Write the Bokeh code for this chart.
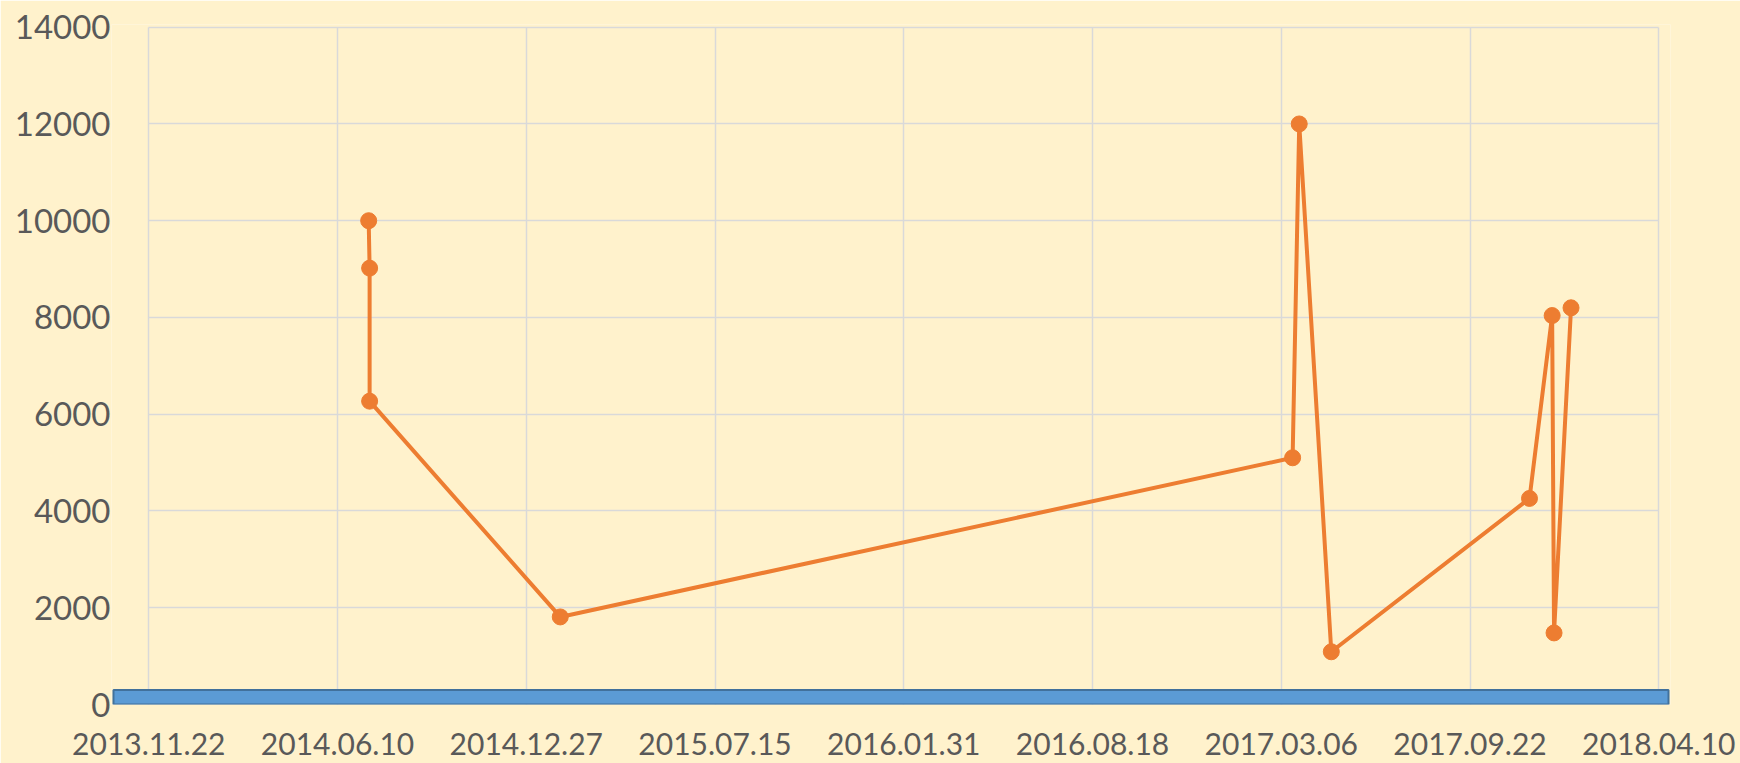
import pandas as pd
from bokeh.plotting import figure
from bokeh.models import Range1d, FixedTicker, DatetimeTickFormatter, ColumnDataSource, Grid
from bokeh.embed import file_html
from bokeh.resources import INLINE

# ---- data ----
dates = ["2014-07-13", "2014-07-14", "2014-07-14", "2015-02-01", "2017-03-18",
         "2017-03-25", "2017-04-28", "2017-11-24", "2017-12-18", "2017-12-20", "2018-01-07"]
values = [10000, 9020, 6270, 1810, 5100, 12000, 1090, 4260, 8040, 1480, 8200]
x_tick_labels = ["2013.11.22", "2014.06.10", "2014.12.27", "2015.07.15", "2016.01.31",
                 "2016.08.18", "2017.03.06", "2017.09.22", "2018.04.10"]
y_ticks = [0, 2000, 4000, 6000, 8000, 10000, 12000, 14000]
base_bar_value = [300]

DAY = 86400000.0
def to_ms(s, fmt=None):
    ts = pd.to_datetime(s, format=fmt)
    return (ts - pd.Timestamp("1970-01-01")) / pd.Timedelta(milliseconds=1)

x_ticks = [float(to_ms(t, "%Y.%m.%d")) for t in x_tick_labels]
xs = [float(to_ms(d)) for d in dates]

x_lo = x_ticks[0] - 39.5 * DAY
x_hi = x_ticks[-1] + 12.4 * DAY

BG = "#FFF2CC"
p = figure(width=1740, height=763, output_backend="svg", toolbar_location=None,
           x_axis_type="datetime",
           x_range=Range1d(x_lo, x_hi), y_range=Range1d(0, 14056),
           background_fill_color=BG, border_fill_color=BG,
           min_border_left=111, min_border_right=70, min_border_top=24, min_border_bottom=59)
p.outline_line_color = None

# axes
p.xaxis.ticker = FixedTicker(ticks=x_ticks)
p.xaxis.formatter = DatetimeTickFormatter(days="%Y.%m.%d", months="%Y.%m.%d", years="%Y.%m.%d")
p.yaxis.ticker = FixedTicker(ticks=y_ticks)
for ax in (p.xaxis[0], p.yaxis[0]):
    ax.axis_line_color = None
    ax.major_tick_line_color = None
    ax.minor_tick_line_color = None
    ax.major_label_text_color = "#595959"
    ax.major_label_text_font = "Lato"
p.xaxis.major_label_text_font_size = "30px"
p.yaxis.major_label_text_font_size = "33px"
p.xaxis.major_label_standoff = 22
p.yaxis.major_label_standoff = -5

# grids
p.xgrid.ticker = FixedTicker(ticks=x_ticks)
p.ygrid.ticker = FixedTicker(ticks=y_ticks)
for g in (p.xgrid[0], p.ygrid[0]):
    g.grid_line_color = "#D9D9D9"
    g.grid_line_width = 1.5
if "cross_bounds" in Grid.properties():
    p.xgrid.cross_bounds = (float(y_ticks[0]), float(y_ticks[-1]))
    p.ygrid.cross_bounds = (x_ticks[0], x_ticks[-1])

# base bar
bar_src = ColumnDataSource(dict(left=[x_ticks[0] - 37.4 * DAY], right=[x_ticks[-1] + 10.3 * DAY],
                                bottom=[0], top=base_bar_value))
p.quad(left="left", right="right", bottom="bottom", top="top", source=bar_src,
       fill_color="#5B9BD5", line_color="#41719C", line_width=2)

# series
src = ColumnDataSource(dict(x=xs, y=values))
p.line("x", "y", source=src, line_color="#ED7D31", line_width=4)
p.scatter("x", "y", source=src, size=16, marker="circle", fill_color="#ED7D31", line_color="#ED7D31")

open("out.html", "w").write(file_html(p, INLINE))
